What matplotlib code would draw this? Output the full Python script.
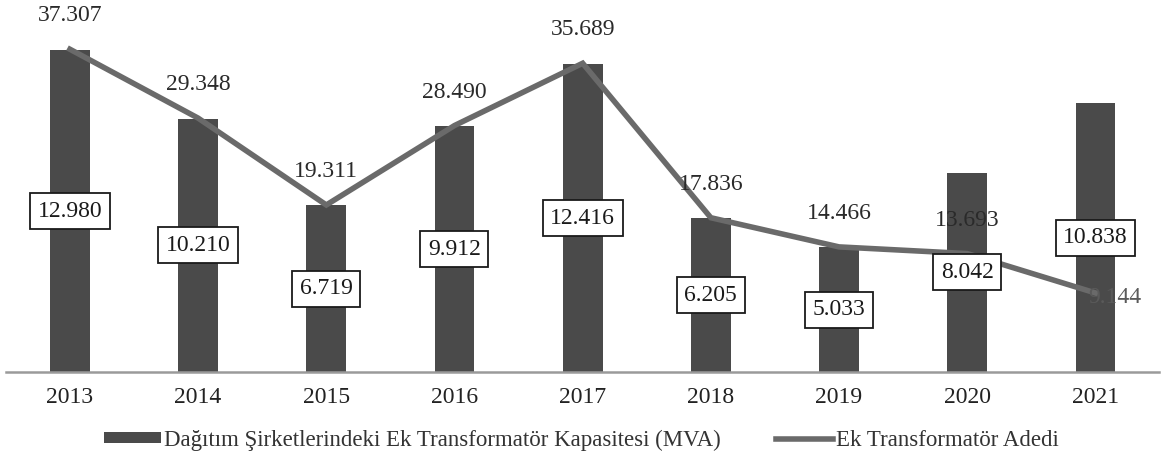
import matplotlib
matplotlib.use("Agg")
from matplotlib import pyplot as plt
from matplotlib.patches import Rectangle
from matplotlib.lines import Line2D

years = ["2013", "2014", "2015", "2016", "2017", "2018", "2019", "2020", "2021"]
kapasite_mva = [12.980, 10.210, 6.719, 9.912, 12.416, 6.205, 5.033, 8.042, 10.838]
trafo_adedi = [37.307, 29.348, 19.311, 28.490, 35.689, 17.836, 14.466, 13.693, 9.144]

bar_label = "Dağıtım Şirketlerindeki Ek Transformatör Kapasitesi (MVA)"
line_label = "Ek Transformatör Adedi"


def fmt(v):
    return f"{v:.3f}"


plt.rcParams["font.family"] = ["Liberation Serif", "DejaVu Serif"]

fig = plt.figure(figsize=(11.7, 4.68), dpi=100)
ax = fig.add_axes([0.005, 0.205, 0.986, 0.795])
x = list(range(len(years)))

bar_color = "#4a4a4a"
line_color = "#6a6a6a"

ax.bar(x, kapasite_mva, width=0.31, color=bar_color, zorder=2)
ax.set_xlim(-0.5, len(years) - 0.5)
ax.set_ylim(0, 15)

ax2 = ax.twinx()
ax2.plot(x, trafo_adedi, color=line_color, linewidth=4, solid_joinstyle="miter", zorder=3)
ax2.set_ylim(0, 43)

for a in (ax, ax2):
    for side in ("top", "left", "right"):
        a.spines[side].set_visible(False)
    a.set_yticks([])
ax2.spines["bottom"].set_visible(False)
ax.spines["bottom"].set_color("#9a9a9a")
ax.spines["bottom"].set_linewidth(1.8)

ax.set_xticks(x)
ax.set_xticklabels(years, fontsize=17, color="#222222")
ax.tick_params(axis="x", length=0, pad=11)

# line values above the points, the last one sits on the bar
for i, v in enumerate(trafo_adedi):
    if i == len(trafo_adedi) - 1:
        ax2.annotate(fmt(v), (i, v), xytext=(14, -3), textcoords="offset points",
                     ha="center", va="center", fontsize=17, color="#5a5a5a", zorder=4)
    else:
        ax2.annotate(fmt(v), (i, v), xytext=(0, 24), textcoords="offset points",
                     ha="center", va="center", fontsize=17, color="#2a2a2a",
                     annotation_clip=False, zorder=4)

# boxed capacity values in the middle of each bar, drawn over the line
for i, v in enumerate(kapasite_mva):
    ax2.text(i, v / 2, fmt(v), transform=ax.transData, ha="center", va="center",
             fontsize=17, color="#1a1a1a", zorder=5,
             bbox=dict(boxstyle="square,pad=0.32", facecolor="white",
                       edgecolor="#1a1a1a", linewidth=1.3))

handles = [Rectangle((0, 0), 1, 1, facecolor=bar_color, edgecolor="none"),
           Line2D([0], [0], color=line_color, linewidth=4)]
fig.legend(handles, [bar_label, line_label], loc="center", bbox_to_anchor=(0.497, 0.06),
           ncol=2, frameon=False, fontsize=16.5, handlelength=2.5, handleheight=0.35,
           handletextpad=0.12, columnspacing=2.4, labelcolor="#333333")

fig.savefig("out.png", dpi=100)
